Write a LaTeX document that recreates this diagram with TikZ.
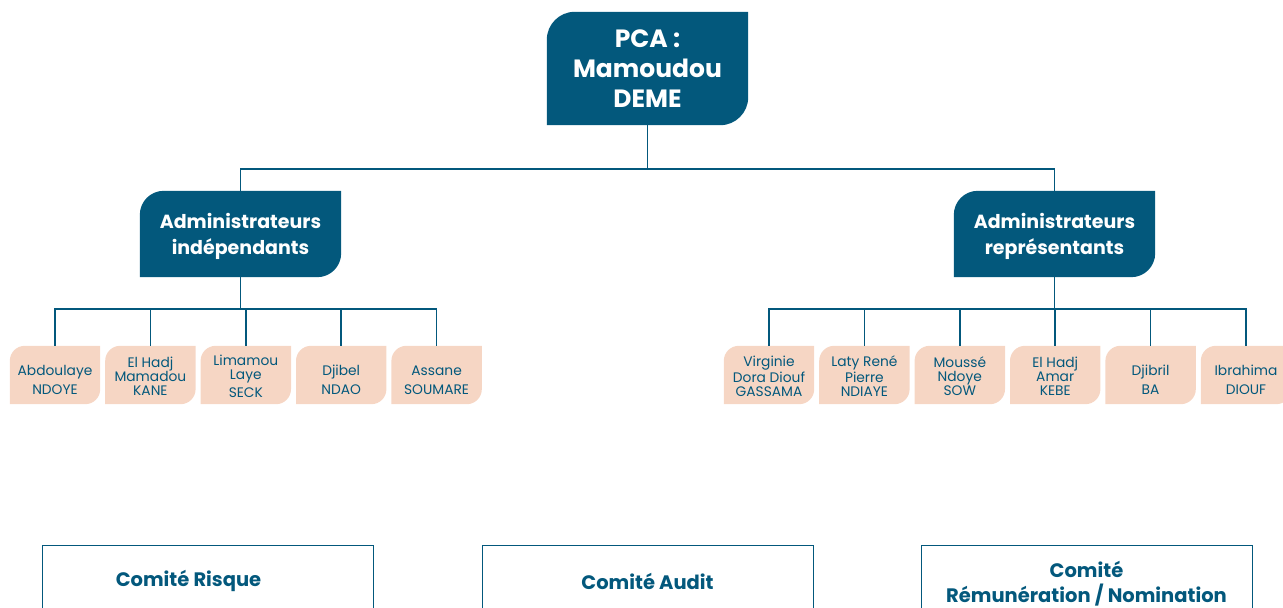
\documentclass[tikz,border=0pt]{standalone}
\usepackage{fontspec}
\setmainfont{Poppins}
\usetikzlibrary{positioning, backgrounds}
\definecolor{bleu}{HTML}{03587C}
\definecolor{peche}{HTML}{F6D6C4}
\tikzset{lien/.style={draw=bleu, line width=1.5pt}}
\newcommand{\cale}[1]{\rule{0pt}{#1}}

\begin{document}
\begin{tikzpicture}[x=1pt, y=1pt, chef/.style={minimum width=201pt, minimum height=113pt, text=white, font=\fontsize{25}{30}\selectfont\bfseries, align=center, inner sep=0pt}, admin/.style={minimum width=201pt, minimum height=86pt, text=white, font=\fontsize{19}{26}\selectfont\bfseries, align=center, inner sep=0pt}, feuille/.style={minimum width=90pt, minimum height=58pt, text=bleu, font=\fontsize{13.8}{14}\selectfont, align=center, inner sep=0pt}, comite/.style={draw=bleu, line width=1pt, minimum width=331pt, minimum height=72pt, text=bleu, font=\fontsize{19.5}{25}\selectfont\bfseries, align=center}]

    \useasboundingbox (0,0) rectangle (1283,-608);

    %Nodes
    \node[chef](pca) at (647.5,-68.5){PCA :\\Mamoudou\\DEME};
    \node[admin](indep) at (240.5,-234){\cale{20pt}Administrateurs\\indépendants};
    \node[admin](repr) at (1054.5,-234){\cale{20pt}Administrateurs\\représentants};

    \node[feuille](a1) at (55,-375){\cale{20pt}Abdoulaye\\[5pt]NDOYE};
    \node[feuille](a2)[right=5pt of a1]{\cale{13pt}El Hadj\\Mamadou\\KANE};
    \node[feuille](a3)[right=5pt of a2]{\cale{13pt}Limamou\\Laye\\[4pt]SECK};
    \node[feuille](a4)[right=5pt of a3]{\cale{20pt}Djibel\\[5pt]NDAO};
    \node[feuille](a5)[right=5pt of a4]{\cale{20pt}Assane\\[5pt]SOUMARE};

    \node[feuille](r1) at (769,-375){\cale{13pt}Virginie\\Dora Diouf\\GASSAMA};
    \node[feuille](r2)[right=5pt of r1]{\cale{13pt}Laty René\\Pierre\\NDIAYE};
    \node[feuille](r3)[right=5pt of r2]{\cale{13pt}Moussé\\Ndoye\\SOW};
    \node[feuille](r4)[right=5pt of r3]{\cale{13pt}El Hadj\\Amar\\KEBE};
    \node[feuille](r5)[right=5pt of r4]{\cale{20pt}Djibril\\[5pt]BA};
    \node[feuille](r6)[right=5pt of r5]{\cale{20pt}Ibrahima\\[5pt]DIOUF};

    \node[comite](risque) at (207.5,-581){Comité Risque\hspace*{38pt}};
    \node[comite](audit) at (647.5,-581){Comité Audit};
    \node[comite](remun) at (1086.5,-581){\cale{22pt}Comité\\Rémunération / Nomination};

    %Shapes
    \begin{scope}[on background layer]
        \foreach \n/\r in {pca/28, indep/24, repr/24}
            \fill[bleu] (\n.south west) -- ([yshift=-\r pt]\n.north west) arc[start angle=180, end angle=90, radius=\r pt] -- (\n.north east) -- ([yshift=\r pt]\n.south east) arc[start angle=0, end angle=-90, radius=\r pt] -- cycle;
        \foreach \n in {a1,a2,a3,a4,a5,r1,r2,r3,r4,r5,r6}
            \fill[peche] (\n.south west) -- ([yshift=-15pt]\n.north west) arc[start angle=180, end angle=90, radius=15pt] -- (\n.north east) -- ([yshift=15pt]\n.south east) arc[start angle=0, end angle=-90, radius=15pt] -- cycle;
    \end{scope}

    %Lines
    \draw[lien] (pca.south) -- ++(0,-44) -| (indep.north);
    \draw[lien] (pca.south) -- ++(0,-44) -| (repr.north);
    \foreach \f in {a1,a2,a3,a4,a5}
        \draw[lien] (indep.south) -- ++(0,-32) -| (\f.north);
    \foreach \f in {r1,r2,r3,r4,r5,r6}
        \draw[lien] (repr.south) -- ++(0,-32) -| (\f.north);

\end{tikzpicture}
\end{document}
